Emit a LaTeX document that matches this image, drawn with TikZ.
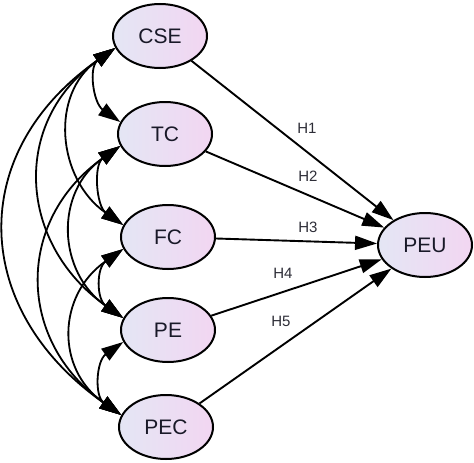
\documentclass[tikz,border=0pt]{standalone}
\usepackage{fontspec}
\setmainfont{Liberation Sans}
\usetikzlibrary{arrows.meta,calc,shapes.geometric}
\definecolor{lblue}{RGB}{228,230,244}
\definecolor{lpink}{RGB}{242,214,242}
\definecolor{txt}{RGB}{25,25,40}
\definecolor{lbl}{RGB}{45,45,55}
\begin{document}
\begin{tikzpicture}[x=1pt,y=-1pt,
 var/.style={ellipse, draw=black, line width=2pt, minimum width=94pt, minimum height=64pt, inner sep=0pt, left color=lblue, right color=lpink, font=\fontsize{21}{24}\selectfont, text=txt},
 cov/.style={line width=1.8pt, {Triangle[length=22pt,width=14pt]}-{Triangle[length=22pt,width=14pt]}},
 reg/.style={line width=1.9pt, -{Triangle[length=22pt,width=14pt]}},
 hyp/.style={font=\fontsize{15}{17}\selectfont, text=lbl}
]
\useasboundingbox (0,0) rectangle (474,463);
\node[var] (cse) at (160,36) {CSE};
\node[var] (tc) at (165,134) {TC};
\node[var] (fc) at (168,237) {FC};
\node[var] (pe) at (168,330) {PE};
\node[var] (pec) at (166,427) {PEC};
\node[var] (peu) at (425,245) {PEU};
% covariances d=1
\draw[cov] (cse.195) .. controls ($(cse.195)+(-27,19)$) and ($(tc.165)+(-27,-19)$) .. (tc.165);
\draw[cov] (tc.195) .. controls ($(tc.195)+(-27,19)$) and ($(fc.165)+(-27,-19)$) .. (fc.165);
\draw[cov] (fc.195) .. controls ($(fc.195)+(-27,19)$) and ($(pe.165)+(-27,-19)$) .. (pe.165);
\draw[cov] (pe.195) .. controls ($(pe.195)+(-27,19)$) and ($(pec.165)+(-27,-19)$) .. (pec.165);
% d=2
\draw[cov] (cse.195) .. controls ($(cse.195)+(-66,46)$) and ($(fc.165)+(-66,-46)$) .. (fc.165);
\draw[cov] (tc.195) .. controls ($(tc.195)+(-66,46)$) and ($(pe.165)+(-66,-46)$) .. (pe.165);
\draw[cov] (fc.195) .. controls ($(fc.195)+(-66,46)$) and ($(pec.165)+(-66,-46)$) .. (pec.165);
% d=3
\draw[cov] (cse.195) .. controls ($(cse.195)+(-105,74)$) and ($(pe.165)+(-105,-74)$) .. (pe.165);
\draw[cov] (tc.195) .. controls ($(tc.195)+(-105,74)$) and ($(pec.165)+(-105,-74)$) .. (pec.165);
% d=4
\draw[cov] (cse.195) .. controls ($(cse.195)+(-150,105)$) and ($(pec.165)+(-150,-105)$) .. (pec.165);
% regressions
\draw[reg] (cse) -- (peu);
\draw[reg] (tc) -- (peu);
\draw[reg] (fc) -- (peu);
\draw[reg] (pe) -- (peu);
\draw[reg] (pec) -- (peu);
\node[hyp] (h1) at (307,128) {H1};
\node[hyp] (h2) at (308,176) {H2};
\node[hyp] (h3) at (308,227) {H3};
\node[hyp] (h4) at (283,273) {H4};
\node[hyp] (h5) at (281,321) {H5};
\end{tikzpicture}
\end{document}
